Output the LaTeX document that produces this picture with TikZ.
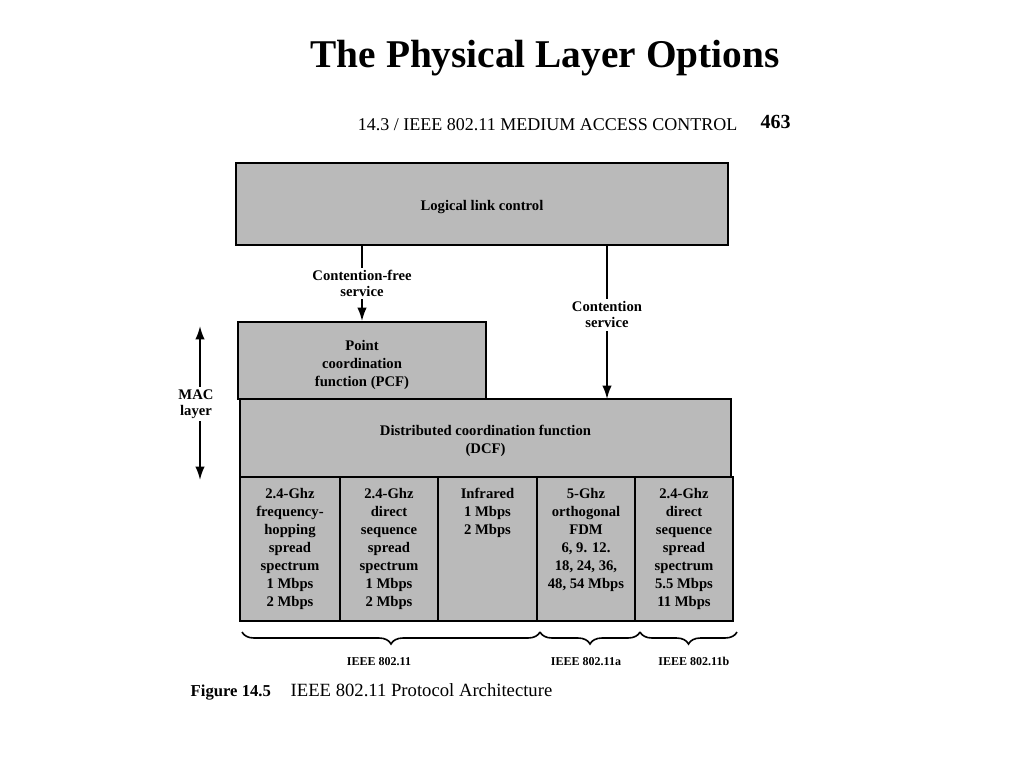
\documentclass[tikz,border=0pt]{standalone}
\usepackage{fontspec}
\setmainfont{Liberation Serif}
\usepackage{xcolor}
\usetikzlibrary{arrows.meta}
\usetikzlibrary{fit, positioning, decorations.pathreplacing}
\definecolor{layergray}{gray}{0.73}

\begin{document}
\begin{tikzpicture}[x=0.75pt, y=-0.75pt,
    layer/.style={draw, line width=1.4pt, fill=layergray, inner sep=0pt},
    celltext/.style={align=center, inner sep=0pt, font=\bfseries\fontsize{11}{13.5}\selectfont},
    svc/.style={fill=white, inner sep=2pt, align=center, font=\bfseries\fontsize{11}{12}\selectfont},
    arr/.style={line width=1.3pt, -{Latex[length=10pt, width=7pt]}},
    brc/.style={line width=1.2pt, decorate, decoration={brace, mirror, amplitude=9pt}},
    brclabel/.style={font=\bfseries\fontsize{9}{10}\selectfont}]
    \useasboundingbox (0,0) rectangle (1024,768);
    % headings
    \node[anchor=base, font=\bfseries\fontsize{29.5}{32}\selectfont] (title) at (545,67) {The Physical Layer Options};
    \node[anchor=base east, font=\fontsize{13.5}{15}\selectfont] (runhead) at (742,130) {14.3 / IEEE 802.11 MEDIUM ACCESS CONTROL};
    \node[anchor=base west, font=\bfseries\fontsize{15}{16}\selectfont] (page) at (756,128) {463};
    % MAC layers
    \node[layer, fit={(236,163) (728,245)},
      label={[celltext, yshift=-2pt]center:Logical link control}] (llc) {};
    \node[layer, fit={(238,322) (486,399)},
      label={[celltext, yshift=-3pt]center:Point\\coordination\\function (PCF)}] (pcf) {};
    \node[layer, fit={(240,399) (731,477)},
      label={[celltext, yshift=-2pt]center:Distributed coordination function\\(DCF)}] (dcf) {};
    % physical layer options
    \foreach \i/\xa/\xb/\txt in {
        1/240/340/{2.4-Ghz\\frequency-\\hopping\\spread\\spectrum\\1 Mbps\\2 Mbps},
        2/340/438/{2.4-Ghz\\direct\\sequence\\spread\\spectrum\\1 Mbps\\2 Mbps},
        3/438/537/{Infrared\\1 Mbps\\2 Mbps},
        4/537/635/{5-Ghz\\orthogonal\\FDM\\6, 9. 12.\\18, 24, 36,\\48, 54 Mbps},
        5/635/733/{2.4-Ghz\\direct\\sequence\\spread\\spectrum\\5.5 Mbps\\11 Mbps}}
      \node[layer, fit={(\xa,477) (\xb,621)},
        label={[celltext, anchor=north, yshift=-9pt]north:\txt}] (phy\i) {};
    % services
    \coordinate (cs) at (607,399);
    \draw[arr] (llc.south -| pcf.north) -- node[svc] {Contention-free\\service} (pcf.north);
    \draw[arr] (llc.south -| cs) -- node[svc, pos=0.45] {Contention\\service} (cs);
    % MAC layer extent
    \node[svc] (mac) at (196,404) {MAC\\layer};
    \coordinate (mactop) at (200,326);
    \coordinate (macbot) at (200,480);
    \draw[arr] (mac.north -| mactop) -- (mactop);
    \draw[arr] (mac.south -| macbot) -- (macbot);
    % standards
    \coordinate (b0) at (242,632);
    \coordinate (b1) at (540,632);
    \coordinate (b2) at (640,632);
    \coordinate (b3) at (737,632);
    \draw[brc] (b0) -- node[brclabel, below=15pt, xshift=-9pt] (std1) {IEEE 802.11} (b1);
    \draw[brc] (b1) -- node[brclabel, below=15pt, xshift=-3pt] (std2) {IEEE 802.11a} (b2);
    \draw[brc] (b2) -- node[brclabel, below=15pt, xshift=4pt] (std3) {IEEE 802.11b} (b3);
    % caption
    \node[anchor=base west, font=\bfseries\fontsize{12.5}{14}\selectfont] (fignum) at (186,696) {Figure 14.5};
    \node[anchor=base west, font=\fontsize{14}{16}\selectfont] (figcap) at (286,696) {IEEE 802.11 Protocol Architecture};
\end{tikzpicture}
\end{document}
